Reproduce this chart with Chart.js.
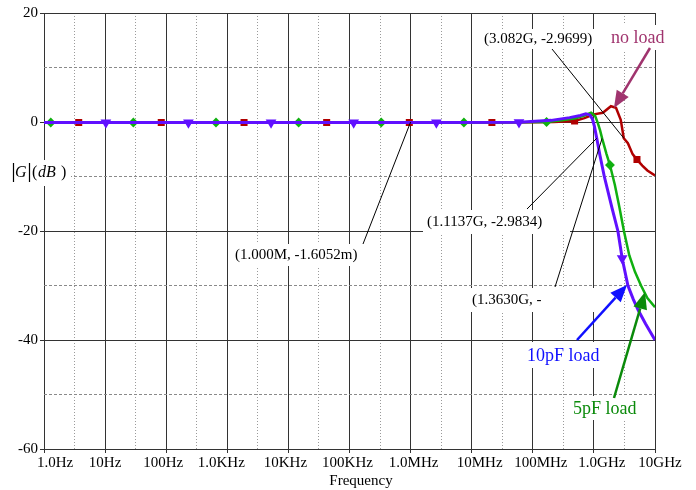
<!DOCTYPE html>
<html>
<head>
<meta charset="utf-8">
<script src="https://cdn.jsdelivr.net/npm/chart.js@4.4.0/dist/chart.umd.min.js"></script>
<style>
  html, body { margin: 0; padding: 0; background: #fff; }
  #wrap { width: 696px; height: 490px; }
</style>
</head>
<body>
<div id="wrap"><canvas id="gainChart"></canvas></div>
<script>
// axis ticks
const decadeTicks = [1, 10, 100, 1e3, 1e4, 1e5, 1e6, 1e7, 1e8, 1e9, 1e10];
const decadeLabels = ['1.0Hz', '10Hz', '100Hz', '1.0KHz', '10KHz', '100KHz', '1.0MHz', '10MHz', '100MHz', '1.0GHz', '10GHz'];
const labelShift = [11, 0, -3, -6, -3, -2, 3, 8, 8, 8, 5]; // px nudges, as in the original plot
const gainTicks = [-60, -50, -40, -30, -20, -10, 0, 10, 20];

// no load
const noLoadFreq = [1, 3.7, 83, 1880, 42300, 953000, 2.14e7, 1e8, 2.2e8, 4.83e8, 7e8, 1e9, 1.4e9, 1.9e9, 2.3e9, 2.75e9, 3.082e9, 3.6e9, 4.3e9, 5.07e9, 6.2e9, 7.5e9, 1e10];
const noLoadGain = [-0.1, -0.1, -0.1, -0.1, -0.1, -0.1, -0.1, -0.05, 0, 0.2, 0.7, 1.4, 1.7, 2.9, 2.6, 0.4, -2.97, -3.9, -5.9, -6.9, -8.0, -8.9, -9.8];
const noLoadMarks = [3.7, 83, 1880, 42300, 953000, 2.14e7, 4.83e8, 5.07e9];

// 5pF load
const load5Freq = [1, 1.29, 29, 653, 14700, 331000, 7.45e6, 1.68e8, 3e8, 5e8, 7e8, 9e8, 1.05e9, 1.16e9, 1.26e9, 1.363e9, 1.6e9, 1.83e9, 2.2e9, 2.6e9, 3.1e9, 3.8e9, 4.7e9, 5.9e9, 7.5e9, 1e10];
const load5Gain = [-0.1, -0.1, -0.1, -0.1, -0.1, -0.1, -0.1, 0, 0.3, 0.7, 1.2, 1.7, 1.1, -0.2, -1.5, -3.0, -5.8, -7.9, -11.5, -15.5, -20, -24.5, -27.5, -30, -32.3, -34];
const load5Marks = [1.29, 29, 653, 14700, 331000, 7.45e6, 1.68e8, 1.83e9];

// 10pF load
const load10Freq = [1, 10.3, 231, 5200, 117000, 2.64e6, 5.94e7, 2e8, 4e8, 6e8, 7.4e8, 8.6e8, 9.5e8, 1.02e9, 1.1137e9, 1.25e9, 1.48e9, 2e9, 2.47e9, 2.9e9, 3.6e9, 4.4e9, 5.3e9, 7e9, 1e10];
const load10Gain = [-0.1, -0.1, -0.1, -0.1, -0.1, -0.1, -0.05, 0.3, 0.8, 1.2, 1.5, 1.3, 0.5, -0.8, -2.98, -6, -10, -16, -20, -25, -30, -32.5, -34.5, -37, -40];
const load10Marks = [10.3, 231, 5200, 117000, 2.64e6, 5.94e7, 2.9e9];

// cursor readouts: box in px, line from box to the data point
const callouts = [
  { text: '(3.082G, -2.9699)', box: [480, 29, 123, 20], from: [552, 49], to: [3.082e9, -2.9699] },
  { text: '(1.1137G, -2.9834)', box: [423, 210, 147, 24], from: [527, 209], to: [1.1137e9, -2.9834] },
  { text: '(1.3630G, -', box: [468, 288, 134, 24], from: [555, 287], to: [1.363e9, -2.997] },
  { text: '(1.000M, -1.6052m)', box: [231, 244, 137, 22], from: [363, 244], to: [1e6, -0.0016052] }
];

const loadLabels = [
  { text: 'no load', color: '#a0346e', box: [608, 25, 62, 25], tail: [650, 48], tip: [2.13e9, 2.57] },
  { text: '10pF load', color: '#1010ff', box: [524, 342, 82, 26], tail: [577, 340], tip: [3.48e9, -29.9] },
  { text: '5pF load', color: '#0a8a0a', box: [570, 396, 73, 24], tail: [614, 398], tip: [6.86e9, -31.2] }
];

const toPoints = (fs, gs) => fs.map((f, i) => ({ x: f, y: gs[i] }));
const markAt = marks => c => (c.raw && marks.includes(c.raw.x)) ? 3.2 : 0;
const isDecade = v => Math.abs(Math.log10(v) - Math.round(Math.log10(v))) < 0.01;

function arrow(ctx, x1, y1, x2, y2, color) {
  const a = Math.atan2(y2 - y1, x2 - x1);
  const len = 17, half = 7;
  const bx = x2 - len * Math.cos(a), by = y2 - len * Math.sin(a);
  ctx.strokeStyle = color;
  ctx.fillStyle = color;
  ctx.lineWidth = 2.5;
  ctx.beginPath();
  ctx.moveTo(x1, y1);
  ctx.lineTo(bx, by);
  ctx.stroke();
  ctx.beginPath();
  ctx.moveTo(x2, y2);
  ctx.lineTo(bx + half * Math.sin(a), by - half * Math.cos(a));
  ctx.lineTo(bx - half * Math.sin(a), by + half * Math.cos(a));
  ctx.closePath();
  ctx.fill();
}

const decor = {
  id: 'decor',
  afterDraw(chart) {
    const { ctx, scales: { x, y } } = chart;
    ctx.save();

    // frequency tick labels and axis title
    ctx.font = '15px "Liberation Serif"';
    ctx.fillStyle = '#000';
    ctx.textAlign = 'center';
    ctx.textBaseline = 'middle';
    decadeTicks.forEach((v, i) => ctx.fillText(decadeLabels[i], x.getPixelForValue(v) + labelShift[i], 463));
    ctx.fillText('Frequency', 361, 481);

    // y title |G|(dB)
    ctx.fillStyle = '#fff';
    ctx.fillRect(5, 160, 66, 26);
    ctx.fillStyle = '#000';
    ctx.strokeStyle = '#000';
    ctx.lineWidth = 1.2;
    ctx.beginPath();
    ctx.moveTo(13.5, 163); ctx.lineTo(13.5, 182);
    ctx.moveTo(29.5, 163); ctx.lineTo(29.5, 182);
    ctx.stroke();
    ctx.textAlign = 'left';
    ctx.font = 'italic 16px "Liberation Serif"';
    ctx.fillText('G', 15, 173);
    ctx.font = '16px "Liberation Serif"';
    ctx.fillText('(', 32, 173);
    ctx.font = 'italic 16px "Liberation Serif"';
    ctx.fillText('dB', 38, 173);
    ctx.font = '16px "Liberation Serif"';
    ctx.fillText(')', 61, 173);

    // readout boxes
    ctx.font = '15px "Liberation Serif"';
    callouts.forEach(c => {
      ctx.fillStyle = '#fff';
      ctx.fillRect(...c.box);
      ctx.fillStyle = '#000';
      ctx.fillText(c.text, c.box[0] + 4, c.box[1] + c.box[3] / 2);
    });
    ctx.strokeStyle = '#000';
    ctx.lineWidth = 1;
    callouts.forEach(c => {
      ctx.beginPath();
      ctx.moveTo(c.from[0], c.from[1]);
      ctx.lineTo(x.getPixelForValue(c.to[0]), y.getPixelForValue(c.to[1]));
      ctx.stroke();
    });

    // load labels with arrows
    ctx.font = '18px "Liberation Serif"';
    loadLabels.forEach(l => {
      ctx.fillStyle = '#fff';
      ctx.fillRect(...l.box);
      ctx.fillStyle = l.color;
      ctx.fillText(l.text, l.box[0] + 3, l.box[1] + l.box[3] / 2 + 1);
      arrow(ctx, l.tail[0], l.tail[1], x.getPixelForValue(l.tip[0]), y.getPixelForValue(l.tip[1]), l.color);
    });

    ctx.restore();
  }
};

new Chart(document.getElementById('gainChart'), {
  type: 'line',
  data: {
    datasets: [
      {
        label: '10pF load',
        data: toPoints(load10Freq, load10Gain),
        borderColor: '#6010ff',
        backgroundColor: '#6010ff',
        borderWidth: 3,
        pointStyle: 'triangle',
        pointRotation: 180,
        pointRadius: markAt(load10Marks),
        order: 0
      },
      {
        label: '5pF load',
        data: toPoints(load5Freq, load5Gain),
        borderColor: '#10b010',
        backgroundColor: '#10b010',
        borderWidth: 2.5,
        pointStyle: 'rectRot',
        pointRadius: markAt(load5Marks),
        order: 1
      },
      {
        label: 'no load',
        data: toPoints(noLoadFreq, noLoadGain),
        borderColor: '#b00000',
        backgroundColor: '#b00000',
        borderWidth: 2.5,
        pointStyle: 'rect',
        pointRadius: markAt(noLoadMarks),
        order: 2
      }
    ]
  },
  options: {
    responsive: true,
    maintainAspectRatio: false,
    animation: false,
    layout: { padding: { top: 13, right: 41, left: 0, bottom: 0 } },
    elements: { line: { tension: 0 }, point: { borderWidth: 1 } },
    plugins: { legend: { display: false }, tooltip: { enabled: false } },
    scales: {
      x: {
        type: 'logarithmic',
        min: 1,
        max: 1e10,
        afterBuildTicks: s => {
          const t = [];
          decadeTicks.forEach((v, i) => {
            t.push({ value: v });
            if (i < decadeTicks.length - 1) t.push({ value: v * Math.sqrt(10) });
          });
          s.ticks = t;
        },
        afterFit: s => { s.height = 41; },
        ticks: { display: false, autoSkip: false },
        grid: {
          color: c => isDecade(c.tick.value) ? '#333' : '#9a9a9a',
          tickColor: c => isDecade(c.tick.value) ? '#333' : 'rgba(0,0,0,0)',
          tickLength: 4,
          lineWidth: 1
        },
        border: { display: false, dash: c => (c.tick && !isDecade(c.tick.value)) ? [1, 2] : [] }
      },
      y: {
        type: 'linear',
        min: -60,
        max: 20,
        afterBuildTicks: s => { s.ticks = gainTicks.map(v => ({ value: v })); },
        afterFit: s => { s.width = 44; },
        ticks: {
          autoSkip: false,
          padding: 2,
          color: '#000',
          font: { family: 'Liberation Serif', size: 15 },
          callback: v => (v % 20 === 0 ? String(v) : '')
        },
        grid: {
          color: c => (c.tick.value % 20 === 0) ? '#333' : '#8a8a8a',
          tickColor: c => (c.tick.value % 20 === 0) ? '#333' : 'rgba(0,0,0,0)',
          tickLength: 4,
          lineWidth: 1
        },
        border: { display: false, dash: c => (c.tick && c.tick.value % 20 !== 0) ? [3, 2] : [] }
      }
    }
  },
  plugins: [decor]
});
</script>
</body>
</html>
